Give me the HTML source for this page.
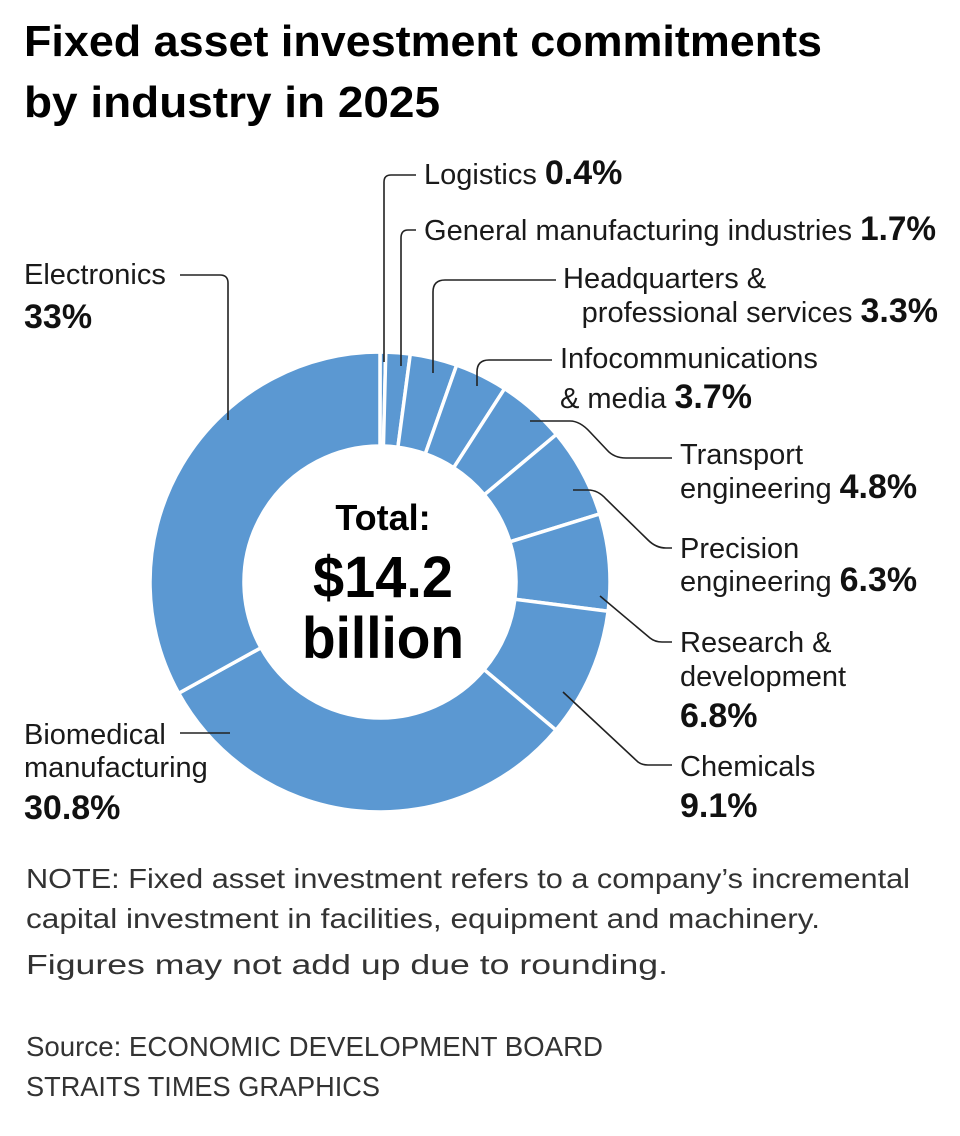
<!DOCTYPE html>
<html><head><meta charset="utf-8"><style>
html,body{margin:0;padding:0;background:#fff;}
svg{display:block;font-family:"Liberation Sans",sans-serif;}
.lb{font-size:29px;fill:#1a1a1a;}
.pc{font-size:34px;font-weight:bold;fill:#111;}
.ld{fill:none;stroke:#222;stroke-width:1.6;}
</style></head><body>
<svg id="chart" width="960" height="1136" viewBox="0 0 960 1136">
<text x="24" y="56" font-size="44" font-weight="bold" textLength="798" lengthAdjust="spacingAndGlyphs">Fixed asset investment commitments</text>
<text x="24" y="117" font-size="44" font-weight="bold" textLength="416" lengthAdjust="spacingAndGlyphs">by industry in 2025</text>
<g id="slices"></g>
<g text-anchor="middle" font-weight="bold" fill="#000">
<text x="383" y="530" font-size="36">Total:</text>
<text x="383" y="597" font-size="58" textLength="140" lengthAdjust="spacingAndGlyphs">$14.2</text>
<text x="383" y="658" font-size="58" textLength="162" lengthAdjust="spacingAndGlyphs">billion</text>
</g>
<g>
<path class="ld" d="M384,362 V182 Q384,175 391,175 H416"/>
<path class="ld" d="M401,366 V238 Q401,230 408,230 H416"/>
<path class="ld" d="M433,373 V292 Q433,280 445,280 H556"/>
<path class="ld" d="M477,386 V372 Q477,360 489,360 H552"/>
<path class="ld" d="M530,421 H570 Q580,421 590,432 L607,450 Q614,458 626,458 H672"/>
<path class="ld" d="M573,490 H588 Q598,490 606,499 L648,540 Q656,548 666,548 H672"/>
<path class="ld" d="M600,596 L650,638 Q655,642 662,642 H672"/>
<path class="ld" d="M563,692 L638,762 Q642,765 648,765 H672"/>
<path class="ld" d="M180,275 H220 Q228,275 228,283 V420"/>
<path class="ld" d="M180,733 H230"/>
</g>
<g>
<text class="lb" x="424" y="184">Logistics <tspan class="pc">0.4%</tspan></text>
<text class="lb" x="424" y="240"><tspan textLength="428" lengthAdjust="spacingAndGlyphs">General manufacturing industries</tspan> <tspan class="pc" textLength="76" lengthAdjust="spacingAndGlyphs">1.7%</tspan></text>
<text class="lb" x="563" y="288">Headquarters &amp;</text>
<text class="lb" x="938" y="322" text-anchor="end">professional services <tspan class="pc">3.3%</tspan></text>
<text class="lb" x="560" y="368">Infocommunications</text>
<text class="lb" x="560" y="408">&amp; media <tspan class="pc">3.7%</tspan></text>
<text class="lb" x="680" y="464">Transport</text>
<text class="lb" x="680" y="498">engineering <tspan class="pc">4.8%</tspan></text>
<text class="lb" x="680" y="558">Precision</text>
<text class="lb" x="680" y="591">engineering <tspan class="pc">6.3%</tspan></text>
<text class="lb" x="680" y="652">Research &amp;</text>
<text class="lb" x="680" y="686">development</text>
<text class="pc" x="680" y="727">6.8%</text>
<text class="lb" x="680" y="776">Chemicals</text>
<text class="pc" x="680" y="817">9.1%</text>
<text class="lb" x="24" y="284">Electronics</text>
<text class="pc" x="24" y="328">33%</text>
<text class="lb" x="24" y="744">Biomedical</text>
<text class="lb" x="24" y="777">manufacturing</text>
<text class="pc" x="24" y="819">30.8%</text>
</g>
<g font-size="28" fill="#333">
<text x="26" y="888" textLength="884" lengthAdjust="spacingAndGlyphs">NOTE: Fixed asset investment refers to a company’s incremental</text>
<text x="26" y="928" textLength="794" lengthAdjust="spacingAndGlyphs">capital investment in facilities, equipment and machinery.</text>
<text x="26" y="974" textLength="642" lengthAdjust="spacingAndGlyphs">Figures may not add up due to rounding.</text>
<text x="26" y="1056" textLength="577" lengthAdjust="spacingAndGlyphs">Source: ECONOMIC DEVELOPMENT BOARD</text>
<text x="26" y="1096" textLength="354" lengthAdjust="spacingAndGlyphs">STRAITS TIMES GRAPHICS</text>
</g>
</svg>
<script>
const categories = ["Logistics","General manufacturing industries","Headquarters & professional services","Infocommunications & media","Transport engineering","Precision engineering","Research & development","Chemicals","Biomedical manufacturing","Electronics"];
const shares = [0.4,1.7,3.3,3.7,4.8,6.3,6.8,9.1,30.8,33];
const cx = 380, cy = 582, R = 230, r = 136;
const g = document.getElementById('slices');
const total = shares.reduce((a,b)=>a+b,0);
function pt(rad, ang){ return [cx + rad*Math.sin(ang), cy - rad*Math.cos(ang)]; }
let acc = 0;
shares.forEach((v,i)=>{
  const a0 = acc/total*2*Math.PI, a1 = (acc+v)/total*2*Math.PI;
  acc += v;
  const large = (a1-a0) > Math.PI ? 1 : 0;
  const p1 = pt(R,a0), p2 = pt(R,a1), p3 = pt(r,a1), p4 = pt(r,a0);
  const p = document.createElementNS('http://www.w3.org/2000/svg','path');
  p.setAttribute('d', `M${p1[0]},${p1[1]} A${R},${R} 0 ${large} 1 ${p2[0]},${p2[1]} L${p3[0]},${p3[1]} A${r},${r} 0 ${large} 0 ${p4[0]},${p4[1]} Z`);
  p.setAttribute('fill', '#5b98d2');
  p.setAttribute('stroke', '#fff');
  p.setAttribute('stroke-width', '3.5');
  
  
  g.appendChild(p);
});
</script>
</body></html>
